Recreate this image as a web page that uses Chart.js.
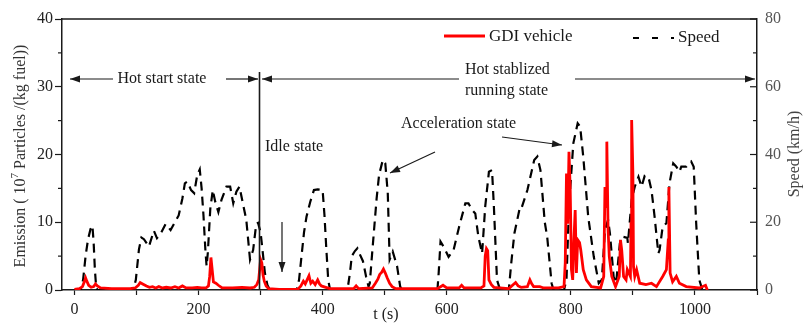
<!DOCTYPE html>
<html lang="en">
<head>
<meta charset="UTF-8">
<title>GDI vehicle emission and speed</title>
<script src="https://cdn.jsdelivr.net/npm/chart.js"></script>
<style>
  html, body { margin: 0; padding: 0; background: #fff; }
  #wrap { width: 805px; height: 323px; position: relative; }
</style>
</head>
<body>
<div id="wrap"><canvas id="chart"></canvas></div>
<script>
// speed trace (km/h, right axis)
const speedT = [0, 10, 14, 18, 22, 26, 29, 31, 33, 35, 37, 95, 99, 104, 108, 112, 120, 128, 133, 140, 147, 155, 162, 168, 174, 178, 182, 188, 193, 198, 202, 205, 208, 211, 213, 215, 219, 223, 227, 232, 237, 245, 251, 256, 261, 266, 271, 277, 283, 288, 293, 296, 300, 303, 307, 311, 315, 358, 362, 366, 370, 374, 380, 386, 392, 400, 403, 406, 409, 412, 440, 444, 447, 452, 456, 460, 465, 470, 474, 476, 479, 483, 487, 491, 497, 501, 505, 508, 513, 520, 525, 528, 585, 587, 590, 595, 603, 611, 620, 630, 635, 641, 646, 651, 657, 662, 668, 673, 676, 681, 686, 700, 704, 709, 717, 719, 730, 741, 746, 751, 758, 762, 769, 772, 789, 793, 797, 804, 811, 815, 820, 828, 837, 845, 850, 855, 860, 863, 869, 873, 879, 884, 891, 892, 898, 903, 909, 914, 919, 925, 930, 935, 941, 943, 948, 954, 959, 965, 970, 975, 978, 986, 994, 998, 1002, 1007, 1012, 1020];
const speedV = [0, 0, 3, 10, 15, 18, 19, 14, 6, 1, 0, 0, 3, 12, 15.5, 15, 12.8, 17.5, 15.3, 17, 19.5, 17.7, 20, 22, 27, 31.5, 32, 29.5, 28.6, 34, 35.6, 30, 22, 12, 7, 11, 24, 29.5, 26, 23, 26.6, 30.5, 30.5, 25.6, 29, 30.5, 26, 20.7, 9, 11.8, 19.5, 19.8, 17, 12, 5, 1.5, 0, 0, 3, 10, 17, 21.6, 26, 29.5, 29.7, 29.5, 22, 12, 3, 0, 0, 5, 10, 11.5, 12.3, 10.5, 8.5, 4, 1, 2, 9, 18, 27, 34, 38.4, 37.4, 28.5, 9, 11.3, 7, 1, 0, 0, 5, 14.3, 12.8, 9.8, 11.8, 18.7, 25.6, 25.6, 23.6, 22.6, 15.7, 10.8, 24.6, 34.9, 35.4, 24.6, 3, 0, 0, 8, 16.7, 23.6, 23.3, 29.5, 38.4, 39.4, 35.4, 20, 15.5, 2, 0, 0, 3, 24.6, 43.3, 49.2, 48.2, 39.4, 21.6, 9.8, 2, 3, 17.7, 20.7, 16.7, 3.9, 2, 13.8, 15.7, 15.4, 13.8, 26.6, 30.5, 33.4, 30.5, 33.7, 33.4, 29.5, 21.6, 10.8, 11.8, 18.7, 19.7, 31.5, 37.4, 36.4, 34.9, 36.4, 36.4, 37.9, 36.4, 19.7, 3, 0, 0];

// particle emission (10^7 particles / kg fuel, left axis)
const emisT = [0, 8, 13, 16, 18, 20, 23, 27, 31, 34, 37, 42, 60, 90, 98, 103, 106, 110, 116, 121, 126, 131, 136, 142, 148, 155, 162, 168, 174, 180, 190, 198, 205, 212, 216, 218, 220, 222, 224, 228, 232, 238, 255, 270, 283, 290, 294, 297, 300, 302, 304, 306, 309, 313, 330, 360, 365, 369, 372, 375, 378, 381, 384, 388, 392, 395, 398, 405, 412, 450, 454, 458, 480, 485, 489, 492, 495, 498, 501, 504, 508, 512, 518, 585, 594, 600, 620, 624, 628, 655, 660, 662, 664, 666, 668, 672, 676, 700, 711, 715, 720, 730, 734, 737, 740, 750, 756, 780, 789, 791, 793, 795, 797, 799, 801, 803, 805, 807, 809, 811, 814, 816, 820, 825, 833, 848, 853, 855, 857, 858, 860, 862, 866, 872, 878, 880, 882, 885, 889, 891, 896, 897, 898, 900, 901, 903, 906, 911, 921, 930, 938, 948, 954, 957, 958, 960, 964, 970, 975, 986, 1007, 1017, 1020];
const emisV = [0.1, 0.2, 0.5, 1.2, 1.8, 1.3, 0.7, 0.4, 0.5, 0.9, 0.6, 0.3, 0.2, 0.2, 0.3, 0.7, 1.1, 0.9, 0.6, 0.4, 0.5, 0.3, 0.5, 0.3, 0.4, 0.3, 0.5, 0.3, 0.6, 0.3, 0.3, 0.4, 0.3, 0.3, 0.6, 2.0, 4.8, 3.0, 1.2, 1.0, 0.7, 0.3, 0.3, 0.4, 0.3, 0.4, 0.8, 1.5, 4.5, 4.0, 2.2, 1.3, 0.6, 0.2, 0.1, 0.1, 0.6, 1.3, 0.9, 1.5, 2.1, 1.0, 1.3, 0.8, 1.5, 0.9, 0.6, 0.4, 0.2, 0.2, 0.6, 0.2, 0.3, 1.0, 1.6, 2.3, 2.6, 3.1, 2.5, 1.8, 1.0, 0.5, 0.2, 0.2, 0.7, 0.3, 0.3, 0.7, 0.3, 0.3, 0.6, 5.0, 6.1, 5.8, 1.5, 0.8, 0.4, 0.2, 1.1, 0.6, 0.4, 0.5, 1.5, 0.9, 0.5, 0.5, 0.3, 0.3, 0.5, 4, 17.2, 9.8, 20.4, 14.8, 3, 1.5, 7.4, 11.8, 2.5, 7.4, 7, 5.9, 3, 1.5, 0.5, 0.3, 2.0, 15.2, 12.3, 21.9, 8.9, 4.9, 2.0, 0.5, 2.0, 7.4, 5.9, 2.0, 1.5, 3.0, 2.0, 9.8, 25.1, 17.2, 3.4, 2.0, 3.0, 1.0, 0.8, 1.0, 0.5, 2.0, 3.0, 7.4, 15.2, 2.5, 1.2, 2.0, 1.0, 0.5, 0.3, 0.7, 0];

const xTickLabels = [0, 200, 400, 600, 800, 1000];

const serif = 'Liberation Serif';
const ink = '#1a1a1a';
Chart.defaults.font.family = serif;

function arrowHead(ctx, x, y, ang) {
  ctx.save();
  ctx.translate(x, y);
  ctx.rotate(ang);
  ctx.beginPath();
  ctx.moveTo(0, 0);
  ctx.lineTo(-10, -3.5);
  ctx.lineTo(-10, 3.5);
  ctx.closePath();
  ctx.fill();
  ctx.restore();
}
function arrow(ctx, x1, y1, x2, y2, head) {
  ctx.beginPath();
  ctx.moveTo(x1, y1);
  ctx.lineTo(x2, y2);
  ctx.stroke();
  if (head) arrowHead(ctx, x2, y2, Math.atan2(y2 - y1, x2 - x1));
}

const extras = {
  id: 'extras',
  afterDraw(chart) {
    const ctx = chart.ctx;
    const a = chart.chartArea;
    const sy = chart.scales.y, sy1 = chart.scales.y1;
    const f = px => px + 'px "' + serif + '", serif';
    ctx.save();
    ctx.strokeStyle = ink;
    ctx.fillStyle = ink;

    // top frame
    ctx.lineWidth = 1.5;
    ctx.beginPath();
    ctx.moveTo(a.left, a.top);
    ctx.lineTo(a.right, a.top);
    ctx.stroke();

    // minor ticks left (outward) and right (inward)
    ctx.lineWidth = 1.2;
    for (let v = 5; v < 40; v += 10) {
      const p = sy.getPixelForValue(v);
      ctx.beginPath(); ctx.moveTo(a.left - 4, p); ctx.lineTo(a.left, p); ctx.stroke();
    }
    for (let v = 0; v <= 80; v += 10) {
      const p = sy1.getPixelForValue(v);
      const len = v % 20 === 0 ? 7 : 4;
      ctx.beginPath(); ctx.moveTo(a.right - len, p); ctx.lineTo(a.right, p); ctx.stroke();
    }

    // axis titles
    ctx.textBaseline = 'middle';
    ctx.fillStyle = '#333';
    ctx.save();
    ctx.translate(21, 156);
    ctx.rotate(-Math.PI / 2);
    const p1 = 'Emission ( 10', p2 = '7', p3 = ' Particles /(kg fuel))';
    ctx.font = f(16);
    const w1 = ctx.measureText(p1).width, w3 = ctx.measureText(p3).width;
    ctx.font = f(11);
    const w2 = ctx.measureText(p2).width;
    let x0 = -(w1 + w2 + w3) / 2;
    ctx.textAlign = 'left';
    ctx.font = f(16);
    ctx.fillText(p1, x0, 0);
    ctx.font = f(11);
    ctx.fillText(p2, x0 + w1, -6);
    ctx.font = f(16);
    ctx.fillText(p3, x0 + w1 + w2, 0);
    ctx.restore();

    ctx.save();
    ctx.font = f(16);
    ctx.fillStyle = '#444';
    ctx.translate(795, 154);
    ctx.rotate(-Math.PI / 2);
    ctx.textAlign = 'center';
    ctx.fillText('Speed (km/h)', 0, 0);
    ctx.restore();

    ctx.font = f(16);
    ctx.fillStyle = '#222';
    ctx.textAlign = 'center';
    ctx.fillText('t (s)', 386, 315);

    // legend
    ctx.fillStyle = ink;
    ctx.textAlign = 'left';
    ctx.font = f(17);
    ctx.strokeStyle = '#ff0000';
    ctx.lineWidth = 3;
    ctx.beginPath(); ctx.moveTo(444, 36); ctx.lineTo(485, 36); ctx.stroke();
    ctx.fillText('GDI vehicle', 489, 37);
    ctx.strokeStyle = '#000';
    ctx.lineWidth = 2.2;
    ctx.setLineDash([6, 13]);
    ctx.beginPath(); ctx.moveTo(633, 38); ctx.lineTo(674, 38); ctx.stroke();
    ctx.setLineDash([]);
    ctx.fillText('Speed', 678, 38);

    // state annotations
    ctx.strokeStyle = ink;
    ctx.fillStyle = ink;
    ctx.lineWidth = 1.2;
    arrow(ctx, 113, 79, 70, 79, true);
    arrow(ctx, 226, 79, 258, 79, true);
    arrow(ctx, 459, 79, 262, 79, true);
    arrow(ctx, 575, 79, 755, 79, true);
    ctx.lineWidth = 1.6;
    ctx.beginPath(); ctx.moveTo(259.5, 72); ctx.lineTo(259.5, a.bottom); ctx.stroke();
    ctx.lineWidth = 1.2;
    arrow(ctx, 282, 222, 282, 272, true);
    arrow(ctx, 435, 152, 390, 173, true);
    arrow(ctx, 502, 137, 562, 145, true);

    ctx.font = f(16);
    ctx.textAlign = 'center';
    ctx.fillText('Hot start state', 162, 79);
    ctx.textAlign = 'left';
    ctx.fillText('Hot stablized', 465, 70);
    ctx.fillText('running state', 465, 91);
    ctx.fillText('Idle state', 265, 147);
    ctx.fillText('Acceleration state', 401, 124);
    ctx.restore();
  }
};

new Chart(document.getElementById('chart'), {
  type: 'line',
  data: {
    datasets: [
      {
        label: 'GDI vehicle',
        data: emisT.map((t, i) => ({ x: t, y: emisV[i] })),
        yAxisID: 'y',
        borderColor: '#ff0000',
        borderWidth: 2.8,
        pointRadius: 0,
        tension: 0
      },
      {
        label: 'Speed',
        data: speedT.map((t, i) => ({ x: t, y: speedV[i] })),
        yAxisID: 'y1',
        borderColor: '#000',
        borderWidth: 2.2,
        borderDash: [9, 6],
        pointRadius: 0,
        tension: 0
      }
    ]
  },
  options: {
    responsive: true,
    maintainAspectRatio: false,
    animation: false,
    layout: { padding: { top: 19, left: 0, right: 0, bottom: 0 } },
    plugins: { legend: { display: false }, tooltip: { enabled: false } },
    scales: {
      x: {
        type: 'linear',
        min: -20,
        max: 1100,
        afterFit: s => { s.height = 33; },
        border: { display: true, color: ink, width: 1.5 },
        grid: { drawOnChartArea: false, tickLength: 5, tickColor: ink, tickWidth: 1.2 },
        ticks: {
          stepSize: 100,
          includeBounds: false,
          autoSkip: false,
          maxRotation: 0,
          padding: 5,
          color: '#222',
          font: { family: serif, size: 16 },
          callback: v => xTickLabels.includes(v) ? String(v) : ''
        }
      },
      y: {
        position: 'left',
        min: 0,
        max: 40,
        afterFit: s => { s.width = 62; },
        border: { display: true, color: ink, width: 1.5 },
        grid: { drawOnChartArea: false, tickLength: 7, tickColor: ink, tickWidth: 1.2 },
        ticks: { stepSize: 10, padding: 2, color: '#222', font: { family: serif, size: 16 } }
      },
      y1: {
        position: 'right',
        min: 0,
        max: 80,
        afterFit: s => { s.width = 48; },
        border: { display: true, color: ink, width: 1.5 },
        grid: { drawOnChartArea: false, drawTicks: false },
        ticks: { stepSize: 20, padding: 8, color: '#555', font: { family: serif, size: 16 } }
      }
    }
  },
  plugins: [extras]
});
</script>
</body>
</html>
